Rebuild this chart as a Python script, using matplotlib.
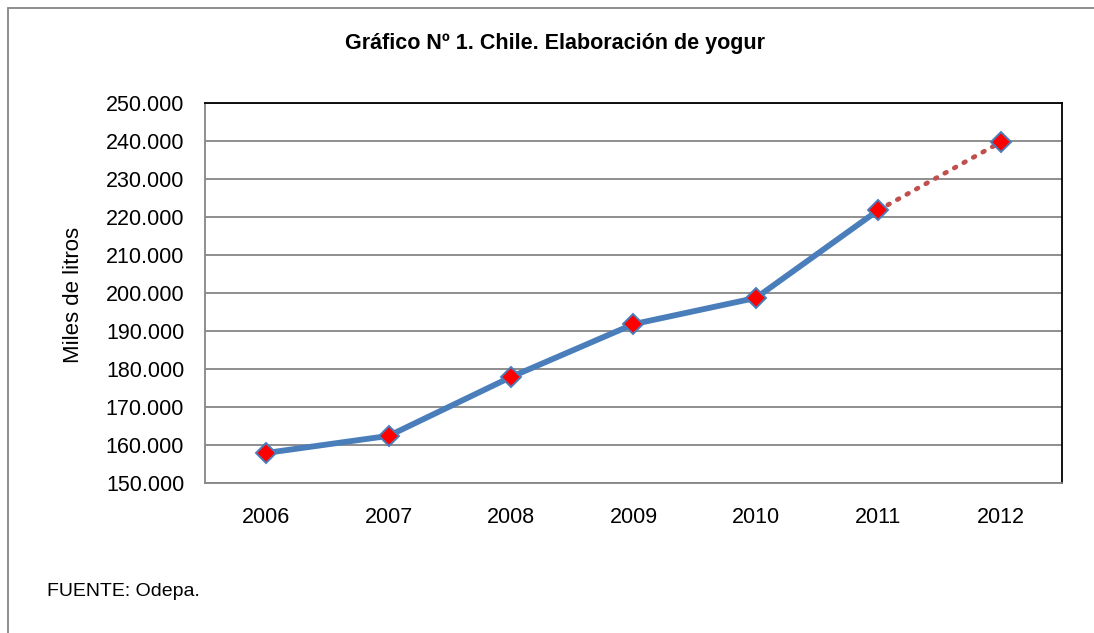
import matplotlib.pyplot as plt
from matplotlib.ticker import FuncFormatter
from matplotlib.patches import Rectangle

plt.rcParams['font.family'] = ['Liberation Sans', 'DejaVu Sans']

# Datos
anios = ['2006', '2007', '2008', '2009', '2010', '2011', '2012']
litros = [157900, 162400, 177900, 191800, 198700, 221800, 239700]

fig = plt.figure(figsize=(10.94, 6.33), dpi=100)
ax = fig.add_axes([0.1874, 0.2370, 0.7833, 0.6003])

x = list(range(len(anios)))

# Linea real (2006-2011) y proyectada (2011-2012)
ax.plot(x[:6], litros[:6], color='#4A7EBB', lw=4.2, solid_capstyle='round', zorder=3)
ax.plot(x[5:], litros[5:], color='#C0504D', lw=3.4, ls=(0, (0.4, 1.9)),
        dash_capstyle='round', zorder=3)
ax.plot(x, litros, ls='none', marker='D', ms=10.5, mfc='#FF0000', mec='#4A7EBB',
        mew=1.4, zorder=4)

ax.set_xlim(-0.5, 6.5)
ax.set_ylim(150000, 250000)
ax.set_yticks(range(150000, 250001, 10000))
ax.yaxis.set_major_formatter(FuncFormatter(lambda v, p: f'{int(v):,}'.replace(',', '.')))
ax.set_xticks(x)
ax.set_xticklabels(anios)
ax.tick_params(axis='both', labelsize=15.5, length=0)
ax.tick_params(axis='x', pad=17)
ax.tick_params(axis='y', pad=15)

ax.grid(axis='y', color='#868686', lw=1.3)
ax.set_axisbelow(True)
ax.spines['left'].set_color('#868686')
ax.spines['bottom'].set_color('#868686')
ax.spines['top'].set_color('black')
ax.spines['right'].set_color('black')
for s in ax.spines.values():
    s.set_linewidth(1.3)

ax.set_ylabel('Miles de litros', fontsize=16)
ax.yaxis.set_label_coords(84 / 1094, 1 - 295 / 633, transform=fig.transFigure)

fig.text(0.507, 0.932, 'Gráfico Nº 1. Chile. Elaboración de yogur', ha='center',
         va='center', fontsize=15.5, fontweight='bold')
fig.text(0.043, 0.065, 'FUENTE: Odepa.', ha='left', va='center', fontsize=14)

# Marco exterior
fig.patches.append(Rectangle((8 / 1094, -0.1), 1.2, 1 - 8 / 633 + 0.1,
                             transform=fig.transFigure, fill=False,
                             ec='#868686', lw=1.3))

fig.savefig('out.png', dpi=100)
